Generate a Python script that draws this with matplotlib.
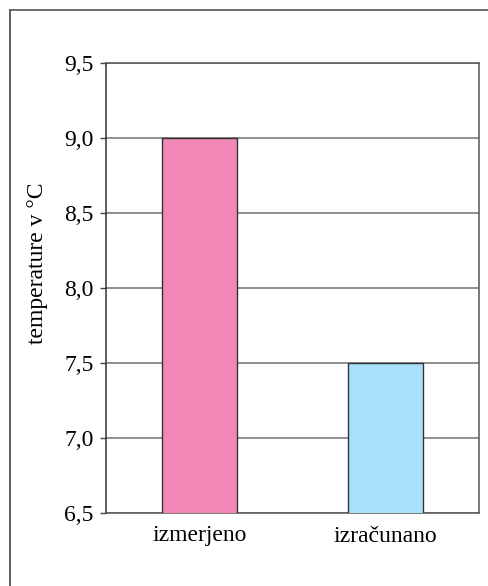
import matplotlib
matplotlib.use("Agg")
import matplotlib.pyplot as plt
from matplotlib.lines import Line2D

plt.rcParams.update({
    "font.family": ["Liberation Serif", "DejaVu Serif"],
    "font.size": 17,
})

categories = ["izmerjeno", "izračunano"]
values = [9.0, 7.5]
colors = ["#F188B5", "#AADFF9"]
yticks = [6.5, 7.0, 7.5, 8.0, 8.5, 9.0, 9.5]
ytick_labels = ["6,5", "7,0", "7,5", "8,0", "8,5", "9,0", "9,5"]

W, H = 489, 586
fig = plt.figure(figsize=(W / 100, H / 100), dpi=100)

# outer frame (only left and top edges visible in crop)
fig.add_artist(Line2D([10 / W, 10 / W], [0, 1 - 9.5 / H], color="#444444", lw=1.2))
fig.add_artist(Line2D([10 / W, 1], [1 - 9.5 / H, 1 - 9.5 / H], color="#555555", lw=1.2))

ax = fig.add_axes([106 / W, (H - 513) / H, 373 / W, 450 / H])
ax.set_axisbelow(True)
ax.yaxis.grid(True, color="#707070", lw=1.1)
x = list(range(len(categories)))
ax.bar(x, values, width=0.4, bottom=0, color=colors, edgecolor="#333333", lw=1.0, zorder=3)

ax.set_xlim(-0.5, 1.5)
ax.set_ylim(6.5, 9.5)
ax.set_yticks(yticks)
ax.set_yticklabels(ytick_labels)
ax.set_xticks(x)
ax.set_xticklabels(categories, fontsize=17)
ax.tick_params(axis="y", length=4, width=1, color="#444444", pad=5, labelsize=17)
ax.tick_params(axis="x", length=0, pad=9)
for s in ax.spines.values():
    s.set_color("#555555")
    s.set_linewidth(1.1)
ax.spines["left"].set_color("#333333")

ax.set_ylabel("temperature v °C", fontsize=17)
ax.yaxis.set_label_coords(-0.155, 0.556)

fig.savefig("out.png", dpi=100)
